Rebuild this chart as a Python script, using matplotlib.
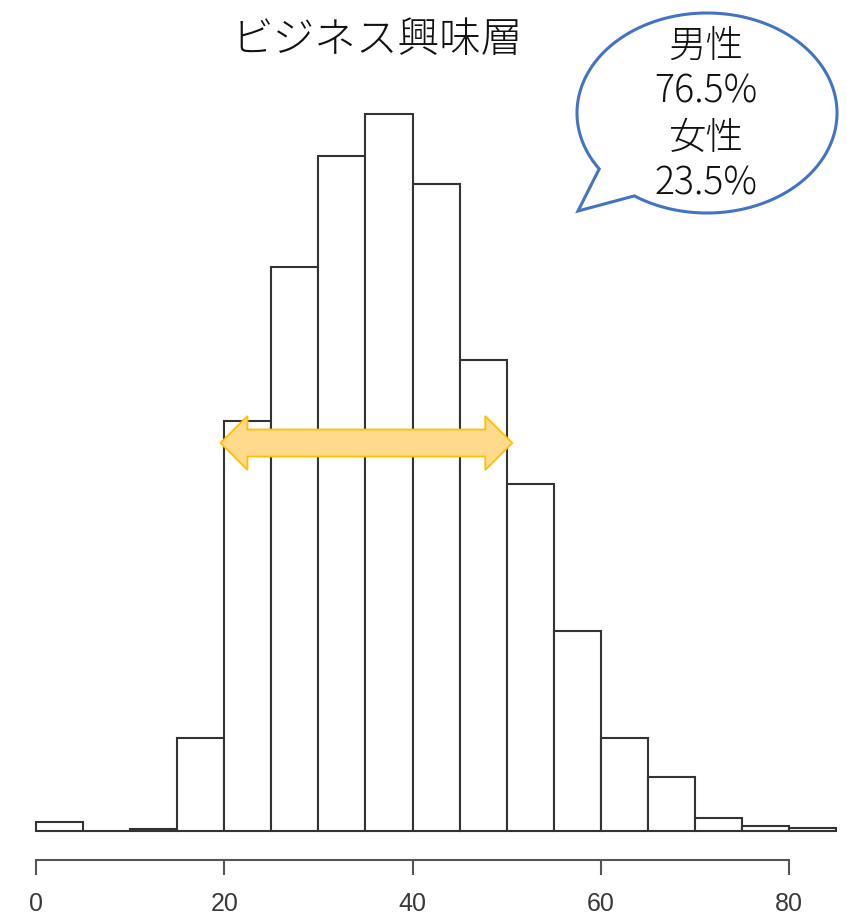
import numpy as np
import matplotlib
matplotlib.use("Agg")
import matplotlib.pyplot as plt
from matplotlib.patches import Polygon

plt.rcParams['font.family'] = ['Noto Sans CJK JP', 'DejaVu Sans']

# histogram data (age bins of 5 years)
bin_edges = np.arange(0, 90, 5)
counts = [9, 0, 2, 93, 410, 564, 675, 717, 647, 471, 347, 200, 93, 54, 13, 5, 3]
x_ticks = [0, 20, 40, 60, 80]
title = "ビジネス興味層"
bubble_text = "男性\n76.5%\n女性\n23.5%"

W, H = 847, 923
fig = plt.figure(figsize=(W / 100, H / 100), dpi=100, facecolor='white')

# main histogram axes, 1 px per count on y
ax = fig.add_axes([0, 0, 1, 1])
px = 753 / 80
ax.set_xlim(-36 / px, (W - 36) / px)
ax.set_ylim(-(H - 831), 831)
ax.bar(bin_edges[:-1], counts, width=5, align='edge', color='white',
       edgecolor='#333333', linewidth=1.5, zorder=2)

for s in ['top', 'right', 'left']:
    ax.spines[s].set_visible(False)
ax.spines['bottom'].set_position(('data', -29))
ax.spines['bottom'].set_bounds(0, 80)
ax.spines['bottom'].set_color('#555555')
ax.spines['bottom'].set_linewidth(1.5)
ax.set_yticks([])
ax.set_xticks(x_ticks)
ax.set_xticklabels([str(t) for t in x_ticks], family='Liberation Sans',
                   fontsize=18, color='#3a3a3a')
ax.tick_params(axis='x', length=10.8, width=1.5, color='#555555', pad=12.5)
ax.set_facecolor('none')

# double-headed arrow across 20-50
ay = 831 - 443
shaft, head, hl = 13.5, 27, 27 / px
x0, x1 = 19.6, 50.6
arrow = [(x0, ay), (x0 + hl, ay + head), (x0 + hl, ay + shaft), (x1 - hl, ay + shaft),
         (x1 - hl, ay + head), (x1, ay), (x1 - hl, ay - head), (x1 - hl, ay - shaft),
         (x0 + hl, ay - shaft), (x0 + hl, ay - head)]
ax.add_patch(Polygon(arrow, closed=True, facecolor='#FFD98C', edgecolor='#FFC000',
                     linewidth=1.3, zorder=5))

# overlay in pixel coords for title and speech bubble
ov = fig.add_axes([0, 0, 1, 1])
ov.set_xlim(0, W)
ov.set_ylim(H, 0)
ov.axis('off')

ov.text(377, 40, title, ha='center', va='center', fontsize=30,
        fontweight='light', color='#111111')

cx, cy, a, b = 707, 113, 130, 100
t = np.radians(np.linspace(146, 484, 300))
pts = list(zip(cx + a * np.cos(t), cy + b * np.sin(t)))
pts.append((578, 211))
ov.add_patch(Polygon(pts, closed=True, facecolor='white', edgecolor='#4472C4',
                     linewidth=2.2, zorder=3))
ov.text(706, 115, bubble_text, ha='center', va='center', fontsize=27,
        fontweight='light', linespacing=1.21, color='#111111', zorder=4)

fig.savefig('out.png', dpi=100, facecolor='white')
